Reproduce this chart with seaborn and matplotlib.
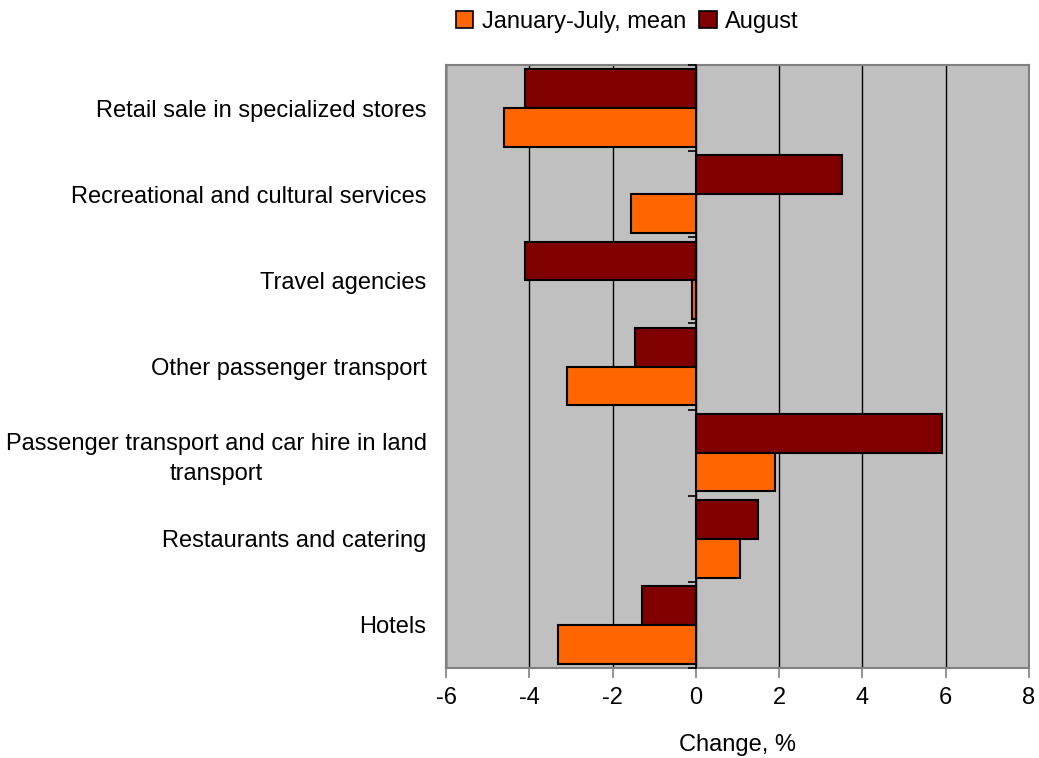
import matplotlib
matplotlib.use("Agg")
import matplotlib.pyplot as plt
import seaborn as sns
import pandas as pd
from matplotlib.patches import Patch

categories = [
    "Retail sale in specialized stores",
    "Recreational and cultural services",
    "Travel agencies",
    "Other passenger transport",
    "Passenger transport and car hire in land\ntransport",
    "Restaurants and catering",
    "Hotels",
]
jan_jul_mean = [-4.6, -1.55, -0.1, -3.1, 1.9, 1.05, -3.3]
august = [-4.1, 3.5, -4.1, -1.45, 5.9, 1.5, -1.3]
series_names = ["January-July, mean", "August"]
colors = {"January-July, mean": "#FF6600", "August": "#800000"}

df = pd.DataFrame({
    "category": categories * 2,
    "series": [series_names[0]] * len(categories) + [series_names[1]] * len(categories),
    "value": jan_jul_mean + august,
})

sns.set_theme(style="white")
plt.rcParams["font.family"] = ["Liberation Sans", "DejaVu Sans"]
plt.rcParams["text.color"] = "black"
plt.rcParams["xtick.color"] = "black"
plt.rcParams["ytick.color"] = "black"
plt.rcParams["axes.labelcolor"] = "black"

FS = 17

fig = plt.figure(figsize=(10.39, 7.58), dpi=100)
ax = fig.add_axes([446 / 1039, 1 - 668 / 758, (1029 - 446) / 1039, (668 - 65) / 758])
ax.set_facecolor("#C0C0C0")

sns.barplot(
    data=df, y="category", x="value", hue="series",
    hue_order=["August", "January-July, mean"], order=categories,
    palette=colors, orient="h", width=0.9, saturation=1,
    edgecolor="black", linewidth=1.5, ax=ax, legend=False,
)

ax.set_xlim(-6, 8)
ax.set_ylim(len(categories) - 0.5, -0.5)
ax.set_xticks(range(-6, 9, 2))
ax.set_xticklabels([str(v) for v in range(-6, 9, 2)], fontsize=FS)
ax.set_axisbelow(True)
ax.xaxis.grid(True, color="black", linewidth=1)
ax.yaxis.grid(False)
ax.tick_params(axis="x", direction="out", length=7, width=1.2, color="#808080",
               bottom=True, pad=7)
ax.tick_params(axis="y", length=0, pad=14, labelsize=FS)
for lbl in ax.get_yticklabels():
    lbl.set_multialignment("center")
    lbl.set_linespacing(1.45)
for s in ax.spines.values():
    s.set_color("#808080")
    s.set_linewidth(1.5)
ax.set_ylabel("")
ax.set_xlabel("Change, %", fontsize=FS, labelpad=18)

# category axis running along the zero line
ax2 = ax.twinx()
ax2.set_ylim(len(categories) - 0.5, -0.5)
for side in ["right", "top", "bottom"]:
    ax2.spines[side].set_visible(False)
ax2.spines["left"].set_visible(True)
ax2.spines["left"].set_position(("data", 0))
ax2.spines["left"].set_color("black")
ax2.spines["left"].set_linewidth(1.2)
ax2.yaxis.set_ticks_position("left")
ax2.set_yticks([i + 0.5 for i in range(-1, len(categories))])
ax2.set_yticklabels([])
ax2.tick_params(axis="y", direction="out", length=6, width=1.2, color="black")
ax2.patch.set_visible(False)

handles = [Patch(facecolor=colors[n], edgecolor="black", linewidth=1.2, label=n)
           for n in series_names]
fig.legend(handles=handles, loc="center", bbox_to_anchor=(627 / 1039, 1 - 22 / 758),
           ncol=2, frameon=False, fontsize=FS, handlelength=0.75, handleheight=0.75,
           handletextpad=0.35, columnspacing=0.55)

fig.savefig("out.png", dpi=100)
